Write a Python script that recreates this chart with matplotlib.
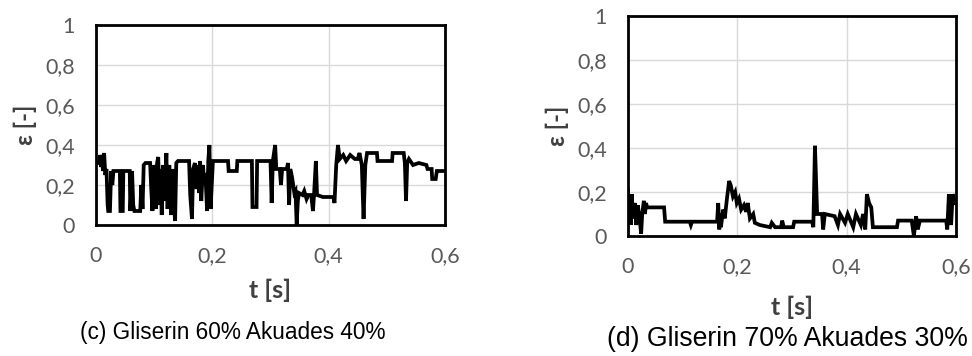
import matplotlib
matplotlib.use('Agg')
import matplotlib.pyplot as plt

# ─── Data: void fraction ε over time ────────────────────────────────
t_c = [0.000, 0.006, 0.007, 0.009, 0.010, 0.012, 0.014, 0.016, 0.018, 0.020,
       0.021, 0.024, 0.026, 0.028, 0.030, 0.041, 0.042, 0.046, 0.047, 0.058,
       0.059, 0.062, 0.064, 0.066, 0.076, 0.078, 0.080, 0.082, 0.085, 0.093,
       0.095, 0.097, 0.099, 0.101, 0.103, 0.105, 0.107, 0.109, 0.111, 0.113,
       0.115, 0.118, 0.121, 0.123, 0.126, 0.129, 0.132, 0.134, 0.136, 0.138,
       0.141, 0.160, 0.162, 0.165, 0.167, 0.170, 0.172, 0.175, 0.177, 0.179,
       0.181, 0.184, 0.186, 0.188, 0.191, 0.193, 0.195, 0.197, 0.199, 0.201,
       0.227, 0.228, 0.242, 0.243, 0.268, 0.269, 0.276, 0.277, 0.300, 0.302,
       0.304, 0.308, 0.310, 0.316, 0.318, 0.320, 0.328, 0.330, 0.332, 0.334,
       0.337, 0.339, 0.341, 0.343, 0.345, 0.347, 0.349, 0.355, 0.358, 0.362,
       0.365, 0.370, 0.373, 0.375, 0.378, 0.380, 0.390, 0.400, 0.408, 0.410,
       0.413, 0.416, 0.419, 0.425, 0.430, 0.437, 0.445, 0.450, 0.453, 0.457,
       0.460, 0.463, 0.466, 0.483, 0.484, 0.509, 0.510, 0.529, 0.531, 0.533,
       0.535, 0.538, 0.545, 0.555, 0.568, 0.570, 0.577, 0.578, 0.584, 0.586,
       0.600]
eps_c = [0.31, 0.31, 0.35, 0.29, 0.35, 0.27, 0.36, 0.25, 0.28, 0.10,
         0.07, 0.07, 0.27, 0.20, 0.27, 0.27, 0.07, 0.07, 0.27, 0.27,
         0.07, 0.27, 0.10, 0.07, 0.07, 0.20, 0.08, 0.30, 0.31, 0.31,
         0.18, 0.07, 0.30, 0.24, 0.08, 0.31, 0.34, 0.10, 0.28, 0.05,
         0.30, 0.12, 0.36, 0.08, 0.30, 0.05, 0.28, 0.10, 0.02, 0.31,
         0.32, 0.32, 0.15, 0.03, 0.28, 0.31, 0.18, 0.30, 0.16, 0.32,
         0.12, 0.30, 0.20, 0.26, 0.07, 0.32, 0.40, 0.08, 0.20, 0.32,
         0.32, 0.27, 0.27, 0.32, 0.32, 0.09, 0.09, 0.32, 0.32, 0.11,
         0.32, 0.40, 0.28, 0.28, 0.20, 0.28, 0.28, 0.31, 0.10, 0.28,
         0.24, 0.20, 0.16, 0.17, 0.00, 0.12, 0.16, 0.15, 0.17, 0.13,
         0.15, 0.15, 0.07, 0.16, 0.32, 0.15, 0.14, 0.14, 0.14, 0.11,
         0.30, 0.40, 0.33, 0.35, 0.32, 0.35, 0.33, 0.33, 0.36, 0.30,
         0.03, 0.30, 0.36, 0.36, 0.32, 0.32, 0.36, 0.36, 0.31, 0.12,
         0.31, 0.33, 0.30, 0.31, 0.30, 0.28, 0.28, 0.23, 0.23, 0.27,
         0.27]

t_d = [0.000, 0.002, 0.004, 0.005, 0.007, 0.009, 0.013, 0.015, 0.018, 0.022,
       0.024, 0.026, 0.029, 0.031, 0.033, 0.035, 0.066, 0.068, 0.113, 0.115,
       0.117, 0.163, 0.165, 0.167, 0.168, 0.170, 0.174, 0.177, 0.181, 0.185,
       0.188, 0.192, 0.196, 0.199, 0.203, 0.207, 0.212, 0.216, 0.219, 0.223,
       0.229, 0.232, 0.241, 0.260, 0.263, 0.269, 0.280, 0.282, 0.285, 0.302,
       0.304, 0.337, 0.339, 0.342, 0.346, 0.355, 0.357, 0.360, 0.378, 0.384,
       0.388, 0.397, 0.402, 0.412, 0.417, 0.426, 0.430, 0.434, 0.437, 0.441,
       0.445, 0.448, 0.492, 0.494, 0.519, 0.523, 0.527, 0.530, 0.534, 0.582,
       0.584, 0.587, 0.591, 0.594, 0.598]
eps_d = [0.21, 0.07, 0.17, 0.05, 0.19, 0.08, 0.15, 0.05, 0.14, 0.06,
         0.01, 0.10, 0.16, 0.10, 0.15, 0.13, 0.13, 0.065, 0.065, 0.05,
         0.065, 0.065, 0.15, 0.03, 0.10, 0.04, 0.12, 0.08, 0.17, 0.25,
         0.23, 0.18, 0.20, 0.15, 0.17, 0.12, 0.14, 0.11, 0.15, 0.08,
         0.10, 0.06, 0.05, 0.04, 0.06, 0.04, 0.04, 0.07, 0.04, 0.04,
         0.065, 0.065, 0.04, 0.41, 0.10, 0.10, 0.03, 0.10, 0.09, 0.05,
         0.10, 0.06, 0.10, 0.04, 0.10, 0.05, 0.10, 0.03, 0.19, 0.15,
         0.13, 0.04, 0.04, 0.07, 0.07, 0.00, 0.09, 0.03, 0.07, 0.07,
         0.03, 0.19, 0.05, 0.19, 0.15]

x_ticks = [0, 0.2, 0.4, 0.6]
x_labels = ['0', '0,2', '0,4', '0,6']
y_ticks = [0, 0.2, 0.4, 0.6, 0.8, 1.0]
y_labels = ['0', '0,2', '0,4', '0,6', '0,8', '1']

captions = ['(c) Gliserin 60% Akuades 40%', '(d) Gliserin 70% Akuades 30%']

TICK_FONT = ['Lato', 'DejaVu Sans']
TICK_GRAY = '#595959'
LABEL_GRAY = '#404040'

fig = plt.figure(figsize=(9.72, 3.56), dpi=100)


def panel(rect, t, eps, caption, cap_xy, cap_size, xlab_y):
    ax = fig.add_axes(rect)
    ax.plot(t, eps, color='black', linewidth=2.7, solid_joinstyle='miter')
    ax.set_xlim(0, 0.6)
    ax.set_ylim(0, 1)
    ax.set_xticks(x_ticks)
    ax.set_xticklabels(x_labels)
    ax.set_yticks(y_ticks)
    ax.set_yticklabels(y_labels)
    ax.tick_params(length=0, pad=15, labelsize=15.5, labelcolor=TICK_GRAY)
    for lab in ax.get_xticklabels() + ax.get_yticklabels():
        lab.set_family(TICK_FONT)
    ax.grid(True, color='#d9d9d9', linewidth=1.0)
    ax.set_axisbelow(True)
    for s in ax.spines.values():
        s.set_linewidth(2.0)
        s.set_color('black')
    ax.set_ylabel('ε [-]', family=TICK_FONT, fontsize=17, fontweight='bold',
                  color=LABEL_GRAY, labelpad=6)
    ax.set_xlabel('t [s]', family=TICK_FONT, fontsize=18, fontweight='bold',
                  color=LABEL_GRAY)
    ax.xaxis.set_label_coords(0.5, xlab_y)
    fig.text(cap_xy[0], cap_xy[1], caption, ha='center', va='center',
             family='Liberation Sans', fontsize=cap_size, color='black')
    return ax


panel([96 / 972, 131 / 356, 349 / 972, 200 / 356], t_c, eps_c, captions[0],
      (233 / 972, 1 - 333 / 356), 16.3, -0.27)
panel([628 / 972, 120 / 356, 328 / 972, 220 / 356], t_d, eps_d, captions[1],
      (787 / 972, 1 - 339 / 356), 19.2, -0.27)

plt.savefig('out.png', dpi=100, facecolor='white')
